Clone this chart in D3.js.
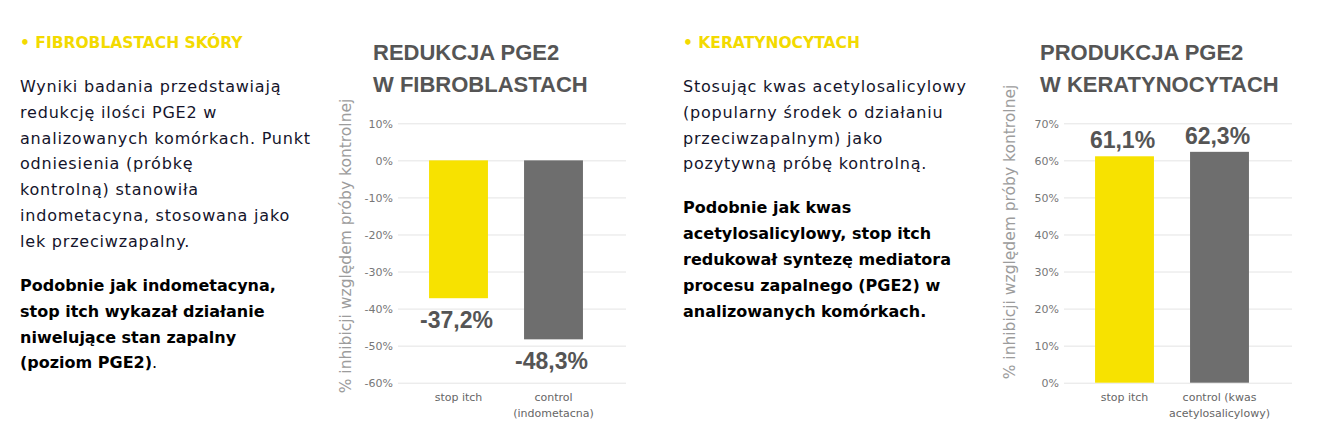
<!DOCTYPE html>
<html>
<head>
<meta charset="utf-8">
<script src="https://cdn.jsdelivr.net/npm/d3@7"></script>
<style>
  body { margin: 0; background: #fff; }
  svg { display: block; }
  .grid line { stroke: #e4e4e4; stroke-width: 1; }
  .grid text { fill: #777; font-family: 'DejaVu Sans', sans-serif; font-size: 11px; }
  .chart-title { fill: #555; font-family: 'Liberation Sans', sans-serif; font-weight: bold; font-size: 22px; }
  .bar-value { fill: #555; font-family: 'Liberation Sans', sans-serif; font-weight: bold; font-size: 23px; }
  .cat-label { fill: #666; font-family: 'DejaVu Sans', sans-serif; font-size: 11px; }
  .y-title { fill: #9c9c9c; font-family: 'DejaVu Sans', sans-serif; font-size: 15.5px; }
  .heading { fill: #f3da00; font-family: 'DejaVu Sans', sans-serif; font-weight: bold; font-size: 15.5px; }
  .body-text { fill: #14142b; font-family: 'DejaVu Sans', sans-serif; font-size: 16px; letter-spacing: 0.8px; }
  .bold-text { fill: #000; font-family: 'DejaVu Sans', sans-serif; font-weight: bold; font-size: 16px; }
</style>
</head>
<body>
<svg id="page"></svg>
<script>
// ---- data ----
const fibroCategories = [['stop itch'], ['control', '(indometacna)']];
const fibroValues = [-37.2, -48.3];
const fibroTicks = [10, 0, -10, -20, -30, -40, -50, -60];
const fibroTitle = ['REDUKCJA PGE2', 'W FIBROBLASTACH'];

const keraCategories = [['stop itch'], ['control (kwas', 'acetylosalicylowy)']];
const keraValues = [61.1, 62.3];
const keraTicks = [70, 60, 50, 40, 30, 20, 10, 0];
const keraTitle = ['PRODUKCJA PGE2', 'W KERATYNOCYTACH'];

const yAxisTitle = '% inhibicji względem próby kontrolnej';
const barColors = ['#f7e200', '#6e6e6e'];

const leftHeading = '• FIBROBLASTACH SKÓRY';
const leftBody = ['Wyniki badania przedstawiają', 'redukcję ilości PGE2 w', 'analizowanych komórkach. Punkt',
  'odniesienia (próbkę', 'kontrolną) stanowiła', 'indometacyna, stosowana jako', 'lek przeciwzapalny.'];
const leftBold = ['Podobnie jak indometacyna,', 'stop itch wykazał działanie', 'niwelujące stan zapalny', '(poziom PGE2)'];

const rightHeading = '• KERATYNOCYTACH';
const rightBody = ['Stosując kwas acetylosalicylowy', '(popularny środek o działaniu',
  'przeciwzapalnym) jako', 'pozytywną próbę kontrolną.'];
const rightBold = ['Podobnie jak kwas', 'acetylosalicylowy, stop itch', 'redukował syntezę mediatora',
  'procesu zapalnego (PGE2) w', 'analizowanych komórkach.'];

const fmt = v => d3.format('.1f')(v).replace('.', ',').replace('−', '-') + '%';

const svg = d3.select('#page').attr('width', 1322).attr('height', 442);
svg.append('rect').attr('width', 1322).attr('height', 442).attr('fill', '#fff');

function drawText(x, heading, body, bold, bodyTop, boldTop, trailingDot) {
  const g = svg.append('g');
  g.append('text').attr('class', 'heading').attr('x', x).attr('y', 48).text(heading);
  g.selectAll('.body-text').data(body).join('text')
    .attr('class', 'body-text').attr('x', x).attr('y', (d, i) => bodyTop + i * 25.9).text(d => d);
  const b = g.selectAll('.bold-text').data(bold).join('text')
    .attr('class', 'bold-text').attr('x', x).attr('y', (d, i) => boldTop + i * 25.9).text(d => d);
  if (trailingDot) {
    b.filter((d, i) => i === bold.length - 1).append('tspan').attr('font-weight', 'normal').text('.');
  }
}

drawText(20, leftHeading, leftBody, leftBold, 91.7, 290.7, true);
drawText(683, rightHeading, rightBody, rightBold, 91.7, 213, false);

function drawChart({ left, titleX, titleLines, categories, values, ticks, labelsAbove, yTitleX, yTitleY }) {
  const gridW = 228;
  const top = 123.3, bottom = 382.7;
  const g = svg.append('g');

  g.selectAll('.chart-title').data(titleLines).join('text')
    .attr('class', 'chart-title').attr('x', titleX).attr('y', (d, i) => 60 + i * 32).text(d => d);

  const y = d3.scaleLinear().domain(d3.extent(ticks)).range([bottom, top]);
  const x = d3.scaleBand().domain(d3.range(values.length))
    .range([left + 13, left + 203]).paddingInner(0.38).paddingOuter(0.19);

  const axis = d3.axisLeft(y).tickValues(ticks).tickFormat(d => d + '%')
    .tickSize(-gridW).tickPadding(5);
  const ax = g.append('g').attr('class', 'grid').attr('transform', `translate(${left},0)`).call(axis);
  ax.select('.domain').remove();
  ax.selectAll('text').attr('dy', '0.35em');

  g.selectAll('.bar').data(values).join('rect')
    .attr('class', 'bar')
    .attr('x', (d, i) => x(i))
    .attr('width', x.bandwidth())
    .attr('y', d => y(Math.max(0, d)))
    .attr('height', d => Math.abs(y(d) - y(0)))
    .attr('fill', (d, i) => barColors[i]);

  g.selectAll('.bar-value').data(values).join('text')
    .attr('class', 'bar-value')
    .attr('text-anchor', 'middle')
    .attr('x', (d, i) => x(i) + x.bandwidth() / 2 - 2)
    .attr('y', d => labelsAbove ? y(d) - 8 : y(d) + 30)
    .text(fmt);

  categories.forEach((lines, i) => {
    g.append('text').attr('class', 'cat-label').attr('text-anchor', 'middle')
      .attr('x', x(i) + x.bandwidth() / 2)
      .selectAll('tspan').data(lines).join('tspan')
      .attr('x', x(i) + x.bandwidth() / 2)
      .attr('y', (d, j) => 400.5 + j * 16)
      .text(d => d);
  });

  g.append('text').attr('class', 'y-title').attr('text-anchor', 'middle')
    .attr('transform', `translate(${yTitleX},${yTitleY}) rotate(-90)`)
    .text(yAxisTitle);
}

drawChart({ left: 398, titleX: 373, titleLines: fibroTitle, categories: fibroCategories,
  values: fibroValues, ticks: fibroTicks, labelsAbove: false, yTitleX: 351, yTitleY: 246 });
drawChart({ left: 1064, titleX: 1040, titleLines: keraTitle, categories: keraCategories,
  values: keraValues, ticks: keraTicks, labelsAbove: true, yTitleX: 1015, yTitleY: 232 });
</script>
</body>
</html>
